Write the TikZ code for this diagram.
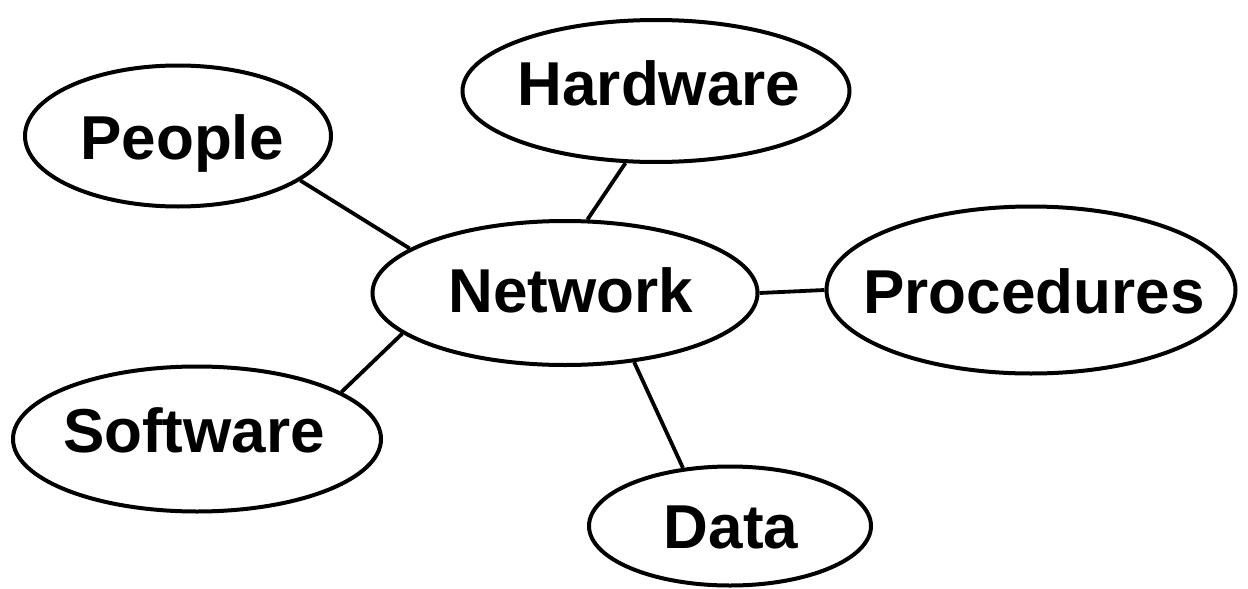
\documentclass[tikz,border=0pt]{standalone}
\usepackage{fontspec}
\setmainfont{Liberation Sans}
\usetikzlibrary{shapes.geometric}
\tikzset{
  oval/.style={draw=black, line width=4pt, ellipse, inner sep=0pt},
  lbl/.style={anchor=base, inner sep=0pt, font=\fontsize{62}{70}\selectfont\bfseries},
  conn/.style={draw=black, line width=3.8pt}
}
\begin{document}
\begin{tikzpicture}[x=1pt, y=-1pt]
\useasboundingbox (0,0) rectangle (1248,589);
% ellipses
\node[oval, minimum width=306pt, minimum height=141pt] (people) at (178,136) {};
\node[oval, minimum width=387pt, minimum height=142pt] (hardware) at (656,91) {};
\node[oval, minimum width=385pt, minimum height=144pt] (network) at (565,293) {};
\node[oval, minimum width=409pt, minimum height=167pt] (procedures) at (1031,290) {};
\node[oval, minimum width=368pt, minimum height=145pt] (software) at (197,439) {};
\node[oval, minimum width=282pt, minimum height=119pt] (data) at (730,526) {};
% labels
\node[lbl] (tpeople) at (182,159) {People};
\node[lbl] (thardware) at (659,105) {Hardware};
\node[lbl] (tnetwork) at (571,312) {Network};
\node[lbl] (tprocedures) at (1034,313) {Procedures};
\node[lbl] (tsoftware) at (194,452) {Software};
\node[lbl] (tdata) at (731,548) {Data};
% connectors
\draw[conn] (people.-20) -- (network.164.7);
\draw[conn] (hardware.-113) -- (network.73);
\draw[conn] (network.0) -- (procedures.180);
\draw[conn] (network.-166.9) -- (software.18);
\draw[conn] (network.-45.8) -- (data.129.6);
\end{tikzpicture}
\end{document}
